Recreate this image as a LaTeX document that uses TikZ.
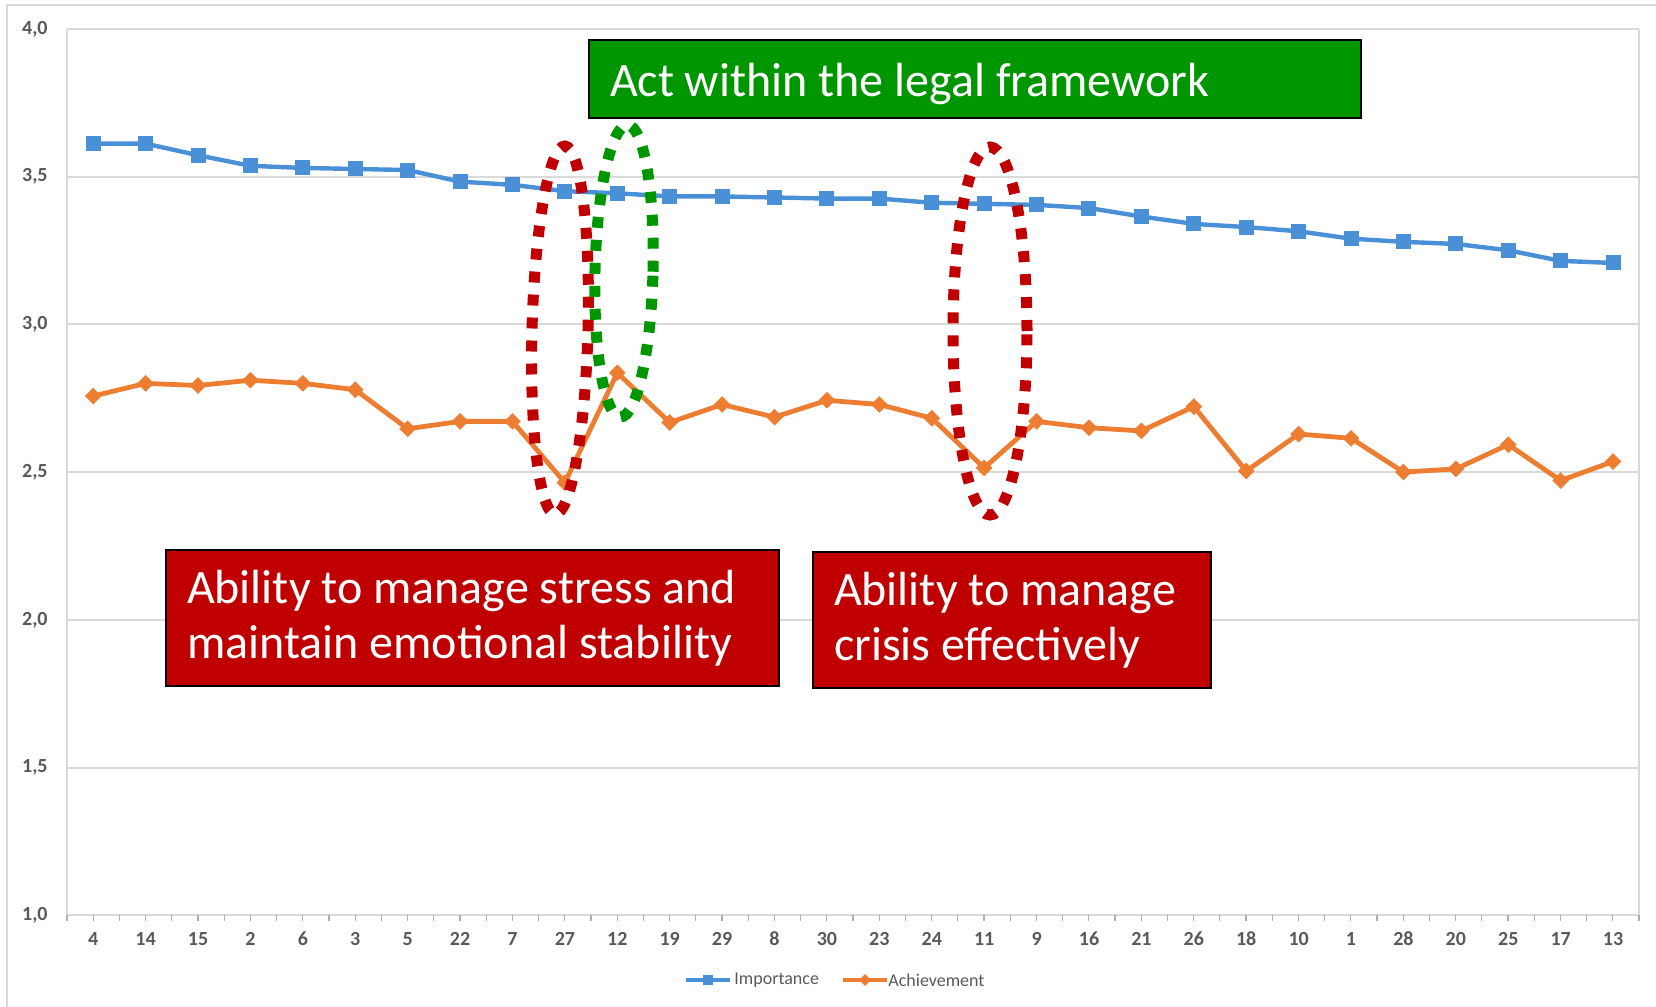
\documentclass[tikz,border=0pt]{standalone}
\usepackage{fontspec}
\setmainfont{Carlito}
\usetikzlibrary{shapes.geometric}
\definecolor{impblue}{RGB}{74,144,214}
\definecolor{achorange}{RGB}{237,125,49}
\definecolor{boxred}{RGB}{192,0,0}
\definecolor{boxgreen}{RGB}{0,150,0}
\definecolor{gridgray}{RGB}{217,217,217}
\definecolor{labelgray}{RGB}{89,89,89}
\begin{document}
\begin{tikzpicture}[x=0.5pt,y=-0.5pt,
  gridline/.style={gridgray,line width=1pt},
  tickline/.style={gridgray!80!black,line width=0.6pt},
  ylab/.style={anchor=east,inner sep=0pt,font=\bfseries\fontsize{10}{12}\selectfont,text=labelgray},
  xlab/.style={anchor=center,inner sep=0pt,font=\bfseries\fontsize{10}{12}\selectfont,text=labelgray},
  legtext/.style={anchor=west,inner sep=0pt,font=\fontsize{9}{11}\selectfont,text=labelgray},
  impline/.style={impblue,line width=2.2pt,line join=round},
  achline/.style={achorange,line width=2.4pt,line join=round},
  impmark/.style={rectangle,fill=impblue,inner sep=0pt,minimum size=7.5pt},
  achmark/.style={diamond,fill=achorange,inner sep=0pt,minimum size=8.5pt},
  textbox/.style={draw=black,line width=1pt,text=white,align=left,inner xsep=10.5pt,inner ysep=0pt,
    font=\fontsize{24}{27.5}\selectfont,execute at begin node={\spaceskip=0.226em\relax}},
  redbox/.style={textbox,fill=boxred},
  greenbox/.style={textbox,fill=boxgreen},
  reddots/.style={boxred,line width=5.5pt,dash pattern=on 5.5pt off 6pt},
  greendots/.style={boxgreen,line width=5.5pt,dash pattern=on 5.5pt off 6pt}
]
\useasboundingbox (0,0) rectangle (1656,1007);
\fill[white] (0,0) rectangle (1656,1007);
% outer chart frame
\draw[gridline] (7,1007) -- (7,5) -- (1656,5);
% grid and y labels
\foreach \lab [count=\k from 0] in {{1,0},{1,5},{2,0},{2,5},{3,0},{3,5},{4,0}} {
  \draw[gridline] (67,{915.2-\k*147.7}) -- (1639,{915.2-\k*147.7});
  \node[ylab] (yl\k) at (48,{915.2-\k*147.7}) {\lab};
}
\draw[gridline] (67,29) -- (67,915.2);
\draw[gridline] (1639,29) -- (1639,915.2);
% ticks
\foreach \k in {0,...,60} \draw[tickline] ({67+\k*26.2},915.2) -- ({67+\k*26.2},921);
% x labels
\foreach \lab [count=\i] in {4,14,15,2,6,3,5,22,7,27,12,19,29,8,30,23,24,11,9,16,21,26,18,10,1,28,20,25,17,13}
  \node[xlab] (xl\i) at ({93.2+(\i-1)*52.41},939) {\lab};
% Importance series
\foreach \yy [count=\i] in {136,136,147,157,159,160,161,172,175,181,183,186,186,187,188,188,192,193,194,197,205,212,215,219,226,229,231,237,247,249}
  \coordinate (imp\i) at ({93.2+(\i-1)*52.41},{\yy*1.05612});
\draw[impline] (imp1) \foreach \i in {2,...,30} { -- (imp\i) };
\foreach \i in {1,...,30} \node[impmark] (impm\i) at (imp\i) {};
% Achievement series
\foreach \yy [count=\i] in {375,363,365,360,363,369,406,399,399,457,353,400,383,395,379,383,396,443,399,405,408,385,446,411,415,447,444,421,455,437}
  \coordinate (ach\i) at ({93.2+(\i-1)*52.41},{\yy*1.05612});
\draw[achline] (ach1) \foreach \i in {2,...,30} { -- (ach\i) };
\foreach \i in {1,...,30} \node[achmark] (achm\i) at (ach\i) {};
% legend
\coordinate (lgA1) at (686,980); \coordinate (lgA2) at (730,980);
\draw[impline] (lgA1) -- (lgA2);
\node[impmark,minimum size=5pt] (lgAm) at (708,980) {};
\node[legtext] (lgAt) at (734,980) {Importance};
\coordinate (lgB1) at (843,980); \coordinate (lgB2) at (887,980);
\draw[achline] (lgB1) -- (lgB2);
\node[achmark,minimum size=6pt] (lgBm) at (865,980) {};
\node[legtext] (lgBt) at (888,980) {Achievement};
% boxes
\node[greenbox,anchor=north west,text width=365pt,minimum height=39pt,text height=17pt,text depth=0pt] (green) at (588,39) {Act within the legal framework};
\node[redbox,anchor=north west,text width=285.5pt,minimum height=68pt] (red1) at (165,549) {Ability to manage stress and\\maintain emotional stability};
\node[redbox,anchor=north west,text width=178pt,minimum height=68pt] (red2) at (812,551) {Ability to manage\\crisis effectively};
% dotted ellipses
\draw[reddots,rotate around={-1.5:(560,330)}] (560,330) ellipse [x radius=14pt,y radius=92pt];
\draw[reddots] (990,331) ellipse [x radius=18.5pt,y radius=92pt];
\draw[greendots,rotate around={-1.4:(624,271)}] (624,271) ellipse [x radius=14.5pt,y radius=73pt];
\end{tikzpicture}
\end{document}
